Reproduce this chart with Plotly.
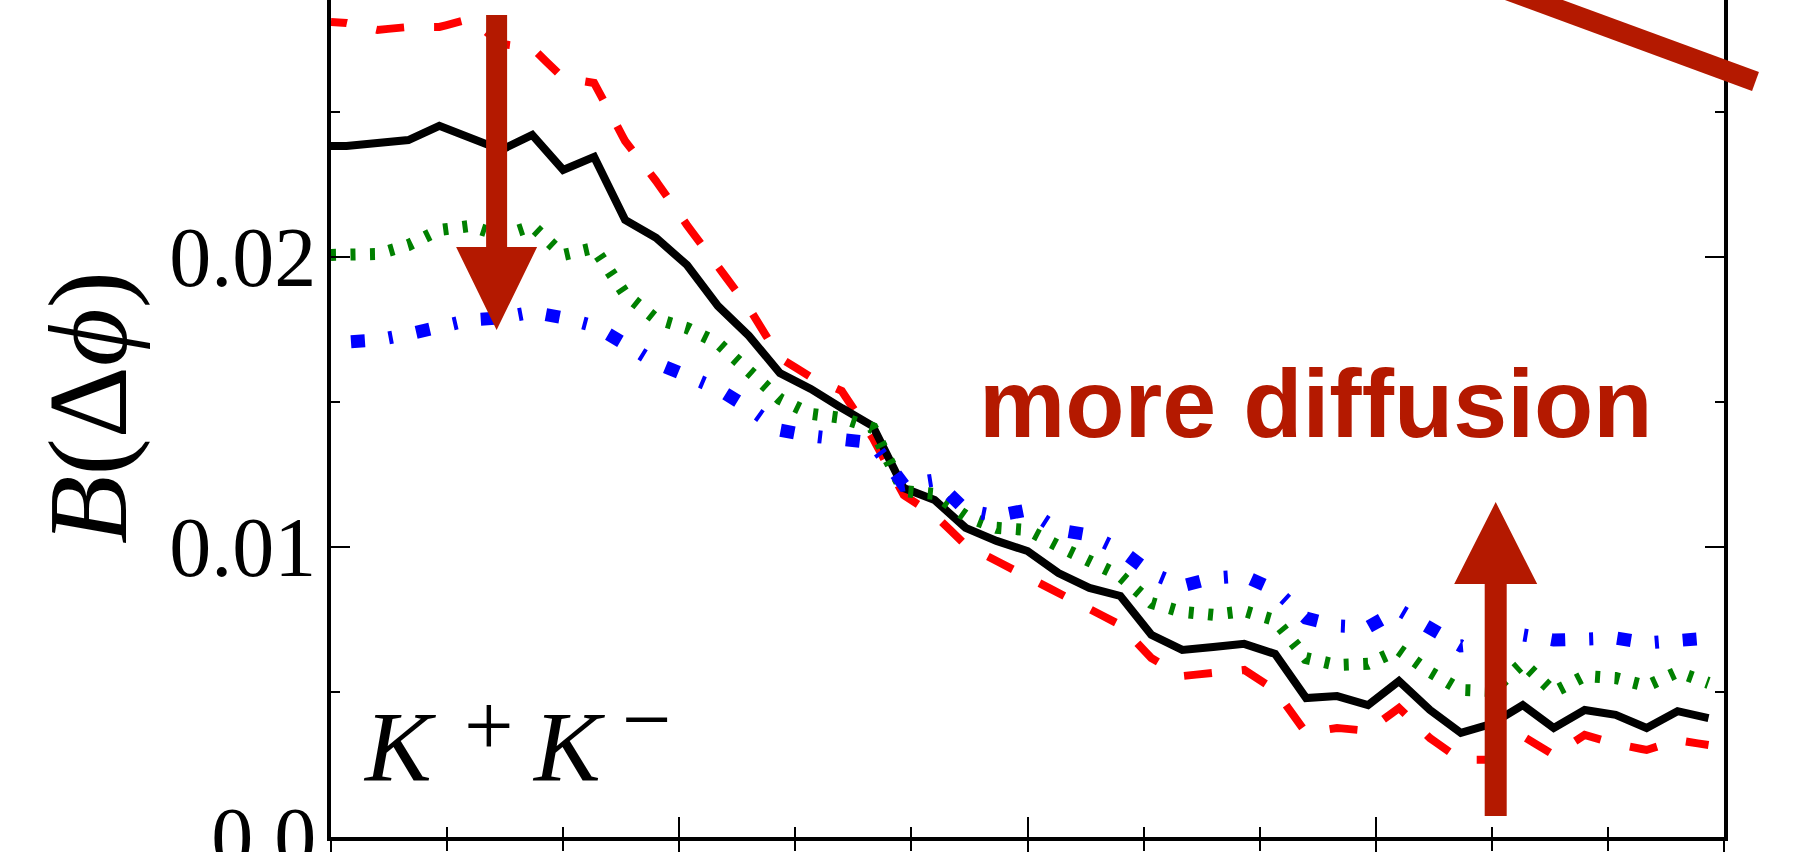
import plotly.graph_objects as go

# ---------------- data ----------------
dphi = [0, 2, 6, 10, 14, 18, 22, 26, 30, 34, 38, 42, 46, 50, 54, 58, 62, 66, 70, 74,
        78, 82, 86, 90, 94, 98, 102, 106, 110, 114, 118, 122, 126, 130, 134, 138,
        142, 146, 150, 154, 158, 162, 166, 170, 174, 178]

b_black = [0.02383, 0.02383, 0.02393, 0.02403, 0.02452, 0.02410, 0.02369, 0.02421, 0.02300, 0.02345,
           0.02128, 0.02066, 0.01972, 0.01831, 0.01728, 0.01600, 0.01545, 0.01479, 0.01417, 0.01203,
           0.01162, 0.01066, 0.01021, 0.00986, 0.00910, 0.00859, 0.00831, 0.00697, 0.00645, 0.00655,
           0.00666, 0.00631, 0.00479, 0.00486, 0.00455, 0.00538, 0.00438, 0.00359, 0.00390, 0.00455,
           0.00376, 0.00438, 0.00421, 0.00376, 0.00434, 0.00410]

b_red = [0.02810, 0.02807, 0.02783, 0.02793, 0.02793, 0.02821, 0.02734, 0.02721, 0.02617, 0.02600,
         0.02400, 0.02262, 0.02110, 0.01969, 0.01824, 0.01652, 0.01586, 0.01538, 0.01376, 0.01179,
         0.01110, 0.01007, 0.00952, 0.00900, 0.00845, 0.00790, 0.00731, 0.00617, 0.00555, 0.00566,
         0.00576, 0.00507, 0.00359, 0.00376, 0.00366, 0.00445, 0.00341, 0.00266, 0.00266, 0.00348,
         0.00283, 0.00352, 0.00321, 0.00300, 0.00334, 0.00317]

b_green = [0.02007, 0.02007, 0.02010, 0.02041, 0.02093, 0.02107, 0.02072, 0.02107, 0.02007, 0.02031,
           0.01872, 0.01786, 0.01755, 0.01703, 0.01610, 0.01510, 0.01459, 0.01445, 0.01410, 0.01193,
           0.01183, 0.01107, 0.01066, 0.01059, 0.01003, 0.00952, 0.00900, 0.00807, 0.00776, 0.00766,
           0.00779, 0.00748, 0.00617, 0.00593, 0.00597, 0.00645, 0.00569, 0.00507, 0.00503, 0.00600,
           0.00500, 0.00555, 0.00548, 0.00521, 0.00569, 0.00531]

b_blue = [0.01703, 0.01703, 0.01714, 0.01734, 0.01762, 0.01783, 0.01790, 0.01810, 0.01790, 0.01762,
          0.01700, 0.01634, 0.01590, 0.01545, 0.01479, 0.01403, 0.01383, 0.01372, 0.01359, 0.01214,
          0.01231, 0.01128, 0.01107, 0.01128, 0.01059, 0.01041, 0.00990, 0.00910, 0.00866, 0.00893,
          0.00900, 0.00852, 0.00755, 0.00728, 0.00724, 0.00783, 0.00721, 0.00659, 0.00669, 0.00697,
          0.00679, 0.00686, 0.00686, 0.00669, 0.00679, 0.00686]

y_tickvals = [0.0, 0.01, 0.02]
y_ticktext = ["0.0", "0.01", "0.02"]
y_minorvals = [0.005, 0.015, 0.025]
x_tickvals = [0, 45, 90, 135, 180]
x_minorvals = [15, 30, 60, 75, 105, 120, 150, 165]

# ---------------- layout geometry ----------------
W, H = 1819, 852
ML, MR, MT, MB = 331, 95, 0, 15
PW, PH = W - ML - MR, H - MT - MB
X_RANGE = [0, 180]
Y_RANGE = [0, 0.02886]
ARROW = "#B41900"

dx_per_px = (X_RANGE[1] - X_RANGE[0]) / PW
dy_per_px = (Y_RANGE[1] - Y_RANGE[0]) / PH


def arrow_path(xc, y_tail, y_tip, shaft_px, head_w_px, head_len_px):
    hs = shaft_px / 2 * dx_per_px
    hh = head_w_px / 2 * dx_per_px
    sign = 1 if y_tip > y_tail else -1
    y_base = y_tip - sign * head_len_px * dy_per_px
    pts = [(xc - hs, y_tail), (xc + hs, y_tail), (xc + hs, y_base), (xc + hh, y_base),
           (xc, y_tip), (xc - hh, y_base), (xc - hs, y_base)]
    return "M " + " L ".join(f"{a},{b}" for a, b in pts) + " Z"


def px_to_paper(px, py):
    return (px - ML) / PW, (H - MB - py) / PH


fig = go.Figure()

fig.add_trace(go.Scatter(x=dphi, y=b_red, mode="lines",
                         line=dict(color="#FF0000", width=8, dash="16px,30px,12px,0px")))
fig.add_trace(go.Scatter(x=dphi, y=b_black, mode="lines",
                         line=dict(color="#000000", width=8)))
fig.add_trace(go.Scatter(x=dphi, y=b_green, mode="lines",
                         line=dict(color="#008000", width=12, dash="5px,14.5px")))
fig.add_trace(go.Scatter(x=dphi, y=b_blue, mode="lines",
                         line=dict(color="#0000FF", width=13, dash="0px,20px,14px,24px,4px,4px")))
# helper trace for the mirrored (right / inner-bottom) axes
fig.add_trace(go.Scatter(x=[None], y=[None], xaxis="x2", yaxis="y2", mode="lines",
                         showlegend=False, hoverinfo="skip"))

serif = "Liberation Serif, DejaVu Serif, serif"
tickfont = dict(family=serif, size=84, color="black")

fig.update_layout(
    width=W, height=H, autosize=False,
    margin=dict(l=ML, r=MR, t=MT, b=MB, pad=0, autoexpand=False),
    paper_bgcolor="white", plot_bgcolor="white",
    showlegend=False,
    xaxis=dict(range=X_RANGE, automargin=False, showgrid=False, zeroline=False, showline=True,
               linewidth=4, linecolor="black", mirror=False, tickmode="array", tickvals=x_tickvals,
               ticks="outside", ticklen=20, tickwidth=2, tickcolor="black", showticklabels=False,
               minor=dict(tickmode="array", tickvals=x_minorvals, ticks="outside", ticklen=10,
                          tickwidth=2, tickcolor="black", showgrid=False)),
    xaxis2=dict(range=X_RANGE, automargin=False, overlaying="x", side="bottom", anchor="y2",
                showgrid=False, zeroline=False, showline=False, tickmode="array",
                tickvals=x_tickvals, ticks="inside", ticklen=20, tickwidth=2, tickcolor="black",
                showticklabels=False,
                minor=dict(tickmode="array", tickvals=x_minorvals, ticks="inside", ticklen=10,
                           tickwidth=2, tickcolor="black", showgrid=False)),
    yaxis=dict(range=Y_RANGE, automargin=False, showgrid=False, zeroline=False, showline=True,
               linewidth=4, linecolor="black", mirror=False, tickmode="array",
               tickvals=y_tickvals, ticktext=y_ticktext, ticks="inside", ticklen=19, tickwidth=2,
               tickcolor="black", tickfont=tickfont, ticklabelstandoff=-6,
               ticklabeloverflow="allow",
               minor=dict(tickmode="array", tickvals=y_minorvals, ticks="inside", ticklen=9,
                          tickwidth=2, tickcolor="black", showgrid=False)),
    yaxis2=dict(range=Y_RANGE, automargin=False, overlaying="y", side="right", anchor="x2",
                showgrid=False, zeroline=False, showline=True, linewidth=4, linecolor="black",
                tickmode="array", tickvals=y_tickvals, ticks="inside", ticklen=19, tickwidth=2,
                tickcolor="black", showticklabels=False,
                minor=dict(tickmode="array", tickvals=y_minorvals, ticks="inside", ticklen=9,
                           tickwidth=2, tickcolor="black", showgrid=False)),
)

# arrows (decorations)
fig.add_shape(type="path", xref="x", yref="y", layer="above", line=dict(width=0),
              fillcolor=ARROW, path=arrow_path(21.4, 0.02834, 0.01748, 21, 81, 83))
fig.add_shape(type="path", xref="x", yref="y", layer="above", line=dict(width=0),
              fillcolor=ARROW, path=arrow_path(150.5, 0.00072, 0.01155, 22, 83, 82))
x0p, y0p = px_to_paper(1300, -86)
x1p, y1p = px_to_paper(1755.5, 81.5)
fig.add_shape(type="line", xref="paper", yref="paper", layer="above",
              x0=x0p, y0=y0p, x1=x1p, y1=y1p, line=dict(color=ARROW, width=20))

# texts
lx, ly = px_to_paper(88, 408)
fig.add_annotation(xref="paper", yref="paper", x=lx, y=ly, xanchor="center", yanchor="middle",
                   text="<i>B</i>(Δ<i>ϕ</i>)", textangle=-90, showarrow=False,
                   font=dict(family=serif, size=112, color="black"))

# particle label K+ K-
kfont = dict(family=serif, size=100, color="black")
sfont = dict(family=serif, size=88, color="black")
for txt, px, py, anchor, fnt in [("<i>K</i>", 361, 746, "left", kfont),
                                 ("+", 489, 725, "center", sfont),
                                 ("<i>K</i>", 530, 746, "left", kfont),
                                 ("−", 647, 719, "center", sfont)]:
    ax_, ay_ = px_to_paper(px, py)
    fig.add_annotation(xref="paper", yref="paper", x=ax_, y=ay_, xanchor=anchor,
                       yanchor="middle", text=txt, showarrow=False, font=fnt)

mx, my = px_to_paper(1316, 403)
fig.add_annotation(xref="paper", yref="paper", x=mx, y=my, xanchor="center", yanchor="middle",
                   text="<b>more diffusion</b>", showarrow=False,
                   font=dict(family="Liberation Sans, sans-serif", size=97, color=ARROW))

fig.write_html("out.html", config={"displayModeBar": False},
               post_script="document.body.style.margin='0px';document.body.style.overflow='hidden';")
